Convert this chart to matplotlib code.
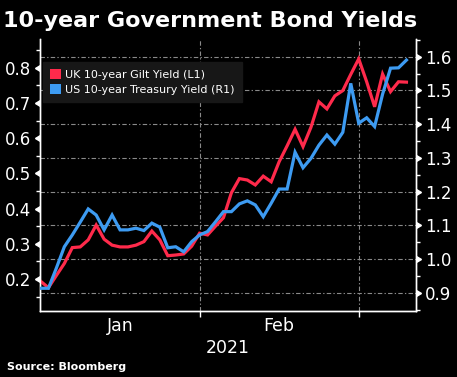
import matplotlib
matplotlib.use("Agg")
import matplotlib.pyplot as plt
import matplotlib.markers as mmarkers
from matplotlib.patches import Patch
import numpy as np

# ---- data (trading-day index, Jan 2021 - early Mar 2021) ----
uk_yield = [0.194, 0.175, 0.210, 0.244, 0.289, 0.291, 0.311, 0.353, 0.313, 0.296,
            0.291, 0.291, 0.296, 0.306, 0.336, 0.311, 0.266, 0.268, 0.271, 0.293,
            0.330, 0.325, 0.350, 0.374, 0.445, 0.485, 0.481, 0.467, 0.492, 0.476,
            0.533, 0.578, 0.625, 0.576, 0.631, 0.703, 0.683, 0.720, 0.735, 0.781,
            0.825, 0.760, 0.689, 0.782, 0.732, 0.760, 0.759]
us_yield = [0.914, 0.914, 0.974, 1.037, 1.072, 1.110, 1.149, 1.131, 1.087, 1.131,
            1.087, 1.087, 1.092, 1.085, 1.107, 1.095, 1.034, 1.037, 1.022, 1.052,
            1.072, 1.082, 1.111, 1.141, 1.141, 1.164, 1.173, 1.161, 1.126, 1.166,
            1.208, 1.208, 1.317, 1.271, 1.299, 1.338, 1.368, 1.341, 1.376, 1.521,
            1.403, 1.419, 1.393, 1.489, 1.566, 1.567, 1.590]
month_labels = ["Jan", "Feb"]
month_label_pos = [10, 30]
month_bounds = [20, 40]
year_label = "2021"
left_ticks = [0.2, 0.3, 0.4, 0.5, 0.6, 0.7, 0.8]
right_ticks = [0.9, 1.0, 1.1, 1.2, 1.3, 1.4, 1.5, 1.6]
series_names = ["UK 10-year Gilt Yield (L1)", "US 10-year Treasury Yield (R1)"]

RED = "#FF2A4B"
BLUE = "#3D9BF2"
GRID = "#8a8a8a"
dash = (0, (4, 2, 1.2, 2))

fig = plt.figure(figsize=(4.57, 3.77), dpi=100, facecolor="black")
ax = fig.add_axes([40 / 457, 1 - 311 / 377, 376 / 457, 272 / 377])
ax.set_facecolor("black")
ax2 = ax.twinx()

x = np.arange(len(uk_yield))
ax.set_xlim(-0.06, 47.2)
ax.set_ylim(0.109, 0.8815)
ax2.set_ylim(0.8467, 1.6524)

# grid lines (behind data), horizontal ones follow the right axis ticks
for v in right_ticks:
    disp = ax2.transData.transform((0, v))
    yl = ax.transData.inverted().transform(disp)[1]
    ax.axhline(yl, color=GRID, lw=0.8, ls=dash, zorder=0)
for b in month_bounds:
    ax.axvline(b, color=GRID, lw=0.8, ls=dash, zorder=0)

ax.plot(x, uk_yield, color=RED, lw=2.3, zorder=3, solid_joinstyle="miter")
ax2.plot(x, us_yield, color=BLUE, lw=2.3, zorder=3, solid_joinstyle="miter")

# spines
for a in (ax, ax2):
    for s in a.spines.values():
        s.set_color("white")
        s.set_linewidth(1.0)
    a.spines["top"].set_visible(False)

# left ticks
ax.set_yticks(left_ticks, [f"{v:.1f}" for v in left_ticks])
ax.set_yticks(np.arange(0.15, 0.86, 0.1), minor=True)
ax.tick_params(axis="y", which="major", length=0, pad=6.5, labelsize=12, labelcolor="white")
ax.tick_params(axis="y", which="minor", length=3, width=1, color="white")
ax.plot(np.zeros(len(left_ticks)), left_ticks, ls="none", marker=mmarkers.CARETLEFTBASE,
        ms=5, color="white", transform=ax.get_yaxis_transform(), clip_on=False, zorder=5)

# right ticks
ax2.set_yticks(right_ticks, [f"{v:.1f}" for v in right_ticks])
ax2.set_yticks(np.arange(0.85, 1.66, 0.1), minor=True)
ax2.tick_params(axis="y", which="major", length=0, pad=6.5, labelsize=12, labelcolor="white")
ax2.tick_params(axis="y", which="minor", length=3, width=1, color="white")
ax2.plot(np.ones(len(right_ticks)), right_ticks, ls="none", marker=mmarkers.CARETRIGHTBASE,
         ms=5, color="white", transform=ax2.get_yaxis_transform(), clip_on=False, zorder=5)

# x ticks
ax.set_xticks(month_bounds, ["", ""])
ax.tick_params(axis="x", which="major", length=4, width=1, color="white")
ax.set_xticks(month_label_pos, month_labels, minor=True)
ax.tick_params(axis="x", which="minor", length=0, pad=4, labelsize=12.5, labelcolor="white")
ax.text(23.6, -0.153, year_label, transform=ax.get_xaxis_transform(), color="white",
        fontsize=12.5, ha="center", va="baseline")

# legend
handles = [Patch(facecolor=RED, edgecolor="none"), Patch(facecolor=BLUE, edgecolor="none")]
leg = ax2.legend(handles, series_names, loc="upper left", bbox_to_anchor=(0.008, 0.915),
                 borderaxespad=0, frameon=True, fancybox=False, fontsize=8,
                 handlelength=1.0, handleheight=1.0, handletextpad=0.35,
                 labelspacing=0.35, borderpad=0.65)
leg.get_frame().set_facecolor("#171717")
leg.get_frame().set_edgecolor("#171717")
leg.get_frame().set_alpha(1)
for t in leg.get_texts():
    t.set_color("white")

fig.text(3 / 457, 1 - 27 / 377, "10-year Government Bond Yields", color="white",
         fontsize=16, fontweight="bold", ha="left", va="baseline")
fig.text(7 / 457, 1 - 370.5 / 377, "Source: Bloomberg", color="white",
         fontsize=8, fontweight="bold", ha="left", va="baseline")

fig.savefig("out.png", dpi=100, facecolor="black")
